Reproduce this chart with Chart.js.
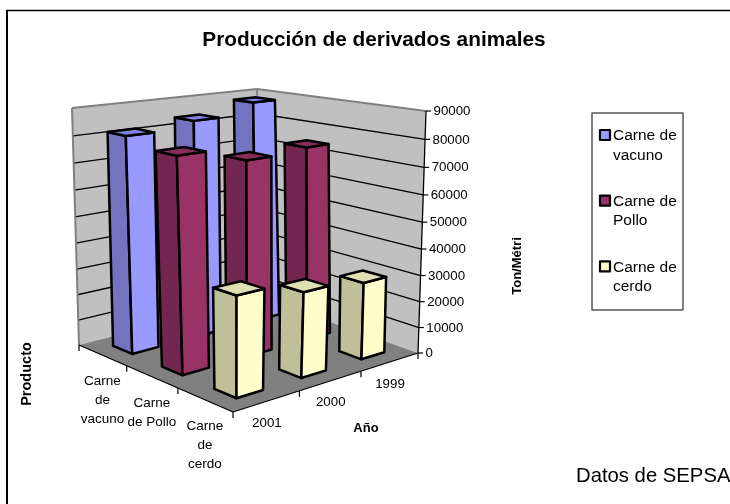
<!DOCTYPE html>
<html>
<head>
<meta charset="utf-8">
<style>html,body{margin:0;padding:0;background:#fff;overflow:hidden;width:730px;height:504px}canvas{display:block}</style>
<script src="https://cdn.jsdelivr.net/npm/chart.js@4"></script>
</head>
<body>
<canvas id="c" width="748" height="520" style="width:748px;height:520px"></canvas>
<script>
const years = ['2001', '2000', '1999'];
const productNames = ['Carne de vacuno', 'Carne de Pollo', 'Carne de cerdo'];
const vacuno = [81500, 83900, 88100];
const pollo = [78600, 73300, 74500];
const cerdo = [36300, 31500, 29200];
const productLabels = [['Carne', 'de', 'vacuno'], ['Carne', 'de Pollo'], ['Carne', 'de', 'cerdo']];
const legendLines = [['Carne de', 'vacuno'], ['Carne de', 'Pollo'], ['Carne de', 'cerdo']];
const faceColors = ['#9999FF', '#993366', '#FFFFCC'];
const sideColors = ['#7373BF', '#732650', '#BFBF99'];
const topColors = ['#8080DF', '#862D59', '#DFDFB2'];

const FONT = '"Liberation Sans", Arial, sans-serif';

function homography(p0, p1, p2, p3) {
  const dx1 = p1[0] - p2[0], dx2 = p3[0] - p2[0], sx = p0[0] - p1[0] + p2[0] - p3[0];
  const dy1 = p1[1] - p2[1], dy2 = p3[1] - p2[1], sy = p0[1] - p1[1] + p2[1] - p3[1];
  const det = dx1 * dy2 - dx2 * dy1;
  const g = (sx * dy2 - dx2 * sy) / det, h = (dx1 * sy - sx * dy1) / det;
  const a = p1[0] - p0[0] + g * p1[0], b = p3[0] - p0[0] + h * p3[0], c = p0[0];
  const d = p1[1] - p0[1] + g * p1[1], e = p3[1] - p0[1] + h * p3[1], f = p0[1];
  return (s, t) => {
    const w = g * s + h * t + 1;
    return [(a * s + b * t + c) / w, (d * s + e * t + f) / w];
  };
}
// Projection frame of the 3D box: s runs front-to-far along the year axis, t runs far-to-near along the product axis.
const floorMap = homography([79, 345], [262, 298], [418, 353], [233, 412]);
const ceilMap = homography([72, 108], [257, 89], [426, 111], [233, 142]);
const RISE = 0.062; // slight vertical perspective of the box
function project(s, t, f0) {
  const f = f0 / (1 + RISE * (1 - f0));
  const a = floorMap(s, t), b = ceilMap(s, t);
  return [a[0] + (b[0] - a[0]) * f, a[1] + (b[1] - a[1]) * f];
}
function poly(ctx, pts, fill, stroke, lw) {
  ctx.beginPath();
  pts.forEach((p, i) => i ? ctx.lineTo(p[0], p[1]) : ctx.moveTo(p[0], p[1]));
  ctx.closePath();
  if (fill) { ctx.fillStyle = fill; ctx.fill(); }
  if (stroke) { ctx.strokeStyle = stroke; ctx.lineWidth = lw; ctx.lineJoin = 'round'; ctx.stroke(); }
}
function line(ctx, a, b, color, lw) {
  ctx.beginPath(); ctx.moveTo(a[0], a[1]); ctx.lineTo(b[0], b[1]);
  ctx.strokeStyle = color; ctx.lineWidth = lw; ctx.stroke();
}
function label(ctx, text, x, y, font, align) {
  ctx.font = font; ctx.fillStyle = '#000'; ctx.textAlign = align || 'center'; ctx.textBaseline = 'middle';
  ctx.fillText(text, x, y);
}

const scene = {
  id: 'scene',
  beforeDatasetsDraw(chart) {
    const ctx = chart.ctx, yS = chart.scales.y, xS = chart.scales.x, area = chart.chartArea;
    const frac = px => (area.bottom - px) / (area.bottom - area.top);
    ctx.save();
    // outer frame
    line(ctx, [7, 11], [7, 520], '#000', 2);
    line(ctx, [6, 10.5], [748, 10.5], '#000', 1.5);
    // walls and floor
    poly(ctx, [project(0,0,0), project(1,0,0), project(1,0,1), project(0,0,1)], '#C0C0C0');
    poly(ctx, [project(1,0,0), project(1,1,0), project(1,1,1), project(1,0,1)], '#C0C0C0');
    poly(ctx, [project(0,0,0), project(1,0,0), project(1,1,0), project(0,1,0)], '#808080');
    // grid lines follow the value scale ticks
    yS.ticks.forEach(t => {
      const f = frac(yS.getPixelForValue(t.value));
      if (f > 0 && f < 1) {
        line(ctx, project(0,0,f), project(1,0,f), '#000', 1.3);
        line(ctx, project(1,0,f), project(1,1,f), '#000', 1.3);
      }
    });
    // wall edges
    line(ctx, project(0,0,0), project(0,0,1), '#808080', 2);
    line(ctx, project(0,0,1), project(1,0,1), '#808080', 2);
    line(ctx, project(1,0,1), project(1,1,1), '#808080', 2);
    line(ctx, project(1,0,1), project(1,0,0.97), '#808080', 2);
    // axis lines
    line(ctx, project(1,1,0), project(1,1,1), '#000', 1.3);
    line(ctx, project(0,0,0), project(0,1,0), '#000', 1.3);
    line(ctx, project(0,1,0), project(1,1,0), '#000', 1.3);
    // value ticks and labels
    yS.ticks.forEach(t => {
      const p = project(1, 1, frac(yS.getPixelForValue(t.value)));
      line(ctx, p, [p[0] + 5, p[1]], '#000', 1.2);
      label(ctx, String(t.value), p[0] + 7.5, p[1] + 0.5, '13.3px ' + FONT, 'left');
    });
    // product axis ticks and labels
    productLabels.forEach((lines, k) => {
      const p = project(0, k / 3, 0);
      line(ctx, p, [p[0], p[1] + 6], '#000', 1.2);
      const m = project(0, (k + 0.5) / 3, 0);
      lines.forEach((txt, j) => label(ctx, txt, m[0], m[1] + 26.5 + j * 18.8, '13.5px ' + FONT));
    });
    line(ctx, project(0,1,0), [project(0,1,0)[0], project(0,1,0)[1] + 6], '#000', 1.2);
    // year axis ticks and labels
    years.forEach((y, i) => {
      const s = (xS.getPixelForValue(i) - area.left) / (area.right - area.left);
      const m = project(s, 1, 0);
      label(ctx, y, m[0], m[1] + 22, '13.3px ' + FONT);
      const p = project((i + 1) / 3, 1, 0);
      line(ctx, p, [p[0], p[1] + 6], '#000', 1.2);
    });
    // bars, back to front, from the chart's own bar elements
    chart.data.datasets.forEach((ds, k) => {
      const elems = chart.getDatasetMeta(k).data;
      for (let i = elems.length - 1; i >= 0; i--) {
        const el = elems[i];
        const W = area.right - area.left;
        const sc = (el.x - area.left) / W, hw = el.width / W / 2;
        const tc = (k + 0.5) / 3;
        const f = (el.base - el.y) / (area.bottom - area.top);
        const s0 = sc - hw, s1 = sc + hw, t0 = tc - hw, t1 = tc + hw;
        poly(ctx, [project(s0,t0,0), project(s0,t1,0), project(s0,t1,f), project(s0,t0,f)], sideColors[k], '#000', 2.5);
        poly(ctx, [project(s0,t1,0), project(s1,t1,0), project(s1,t1,f), project(s0,t1,f)], ds.backgroundColor, '#000', 2.5);
        poly(ctx, [project(s0,t0,f), project(s0,t1,f), project(s1,t1,f), project(s1,t0,f)], topColors[k], '#000', 2.5);
      }
    });
    // axis titles
    const rot = (txt, x, y, size) => {
      ctx.save(); ctx.translate(x, y); ctx.rotate(-Math.PI / 2);
      label(ctx, txt, 0, 0, 'bold ' + size + 'px ' + FONT); ctx.restore();
    };
    rot('Producto', 27, 374, 14.5);
    rot('Ton/Métri', 517, 266, 13);
    label(ctx, 'Año', 366, 428, 'bold 13px ' + FONT);
    // legend
    ctx.strokeStyle = '#555'; ctx.lineWidth = 1.5;
    ctx.strokeRect(592, 113, 91, 197);
    chart.data.datasets.forEach((ds, k) => {
      const y0 = 130 + k * 65.7;
      ctx.fillStyle = ds.backgroundColor;
      ctx.fillRect(600, y0, 10, 10);
      ctx.strokeStyle = '#000'; ctx.lineWidth = 2.2;
      ctx.strokeRect(600, y0, 10, 10);
      legendLines[k].forEach((txt, j) => label(ctx, txt, 613, y0 + 6 + j * 19.3, '15.5px ' + FONT, 'left'));
    });
    // source note
    label(ctx, 'Datos de SEPSA', 576, 476.5, '20.3px ' + FONT, 'left');
    ctx.restore();
    return false;
  }
};

new Chart(document.getElementById('c'), {
  type: 'bar',
  data: {
    labels: years,
    datasets: [
      { label: productNames[0], data: vacuno, backgroundColor: faceColors[0] },
      { label: productNames[1], data: pollo, backgroundColor: faceColors[1] },
      { label: productNames[2], data: cerdo, backgroundColor: faceColors[2] }
    ]
  },
  options: {
    responsive: false,
    animation: false,
    devicePixelRatio: 1,
    layout: { padding: { top: 0, left: 0, right: 0, bottom: 167 } },
    datasets: { bar: { grouped: false, categoryPercentage: 1, barPercentage: 0.4 } },
    scales: {
      x: { display: false },
      y: { display: false, min: 0, max: 90000, ticks: { stepSize: 10000 } }
    },
    plugins: {
      legend: { display: false },
      tooltip: { enabled: false },
      title: {
        display: true,
        text: 'Producción de derivados animales',
        color: '#000',
        font: { family: FONT, size: 20.8, weight: 'bold', lineHeight: 1.2 },
        padding: { top: 27.5, bottom: 58.54 }
      }
    }
  },
  plugins: [scene]
});
</script>
</body>
</html>
